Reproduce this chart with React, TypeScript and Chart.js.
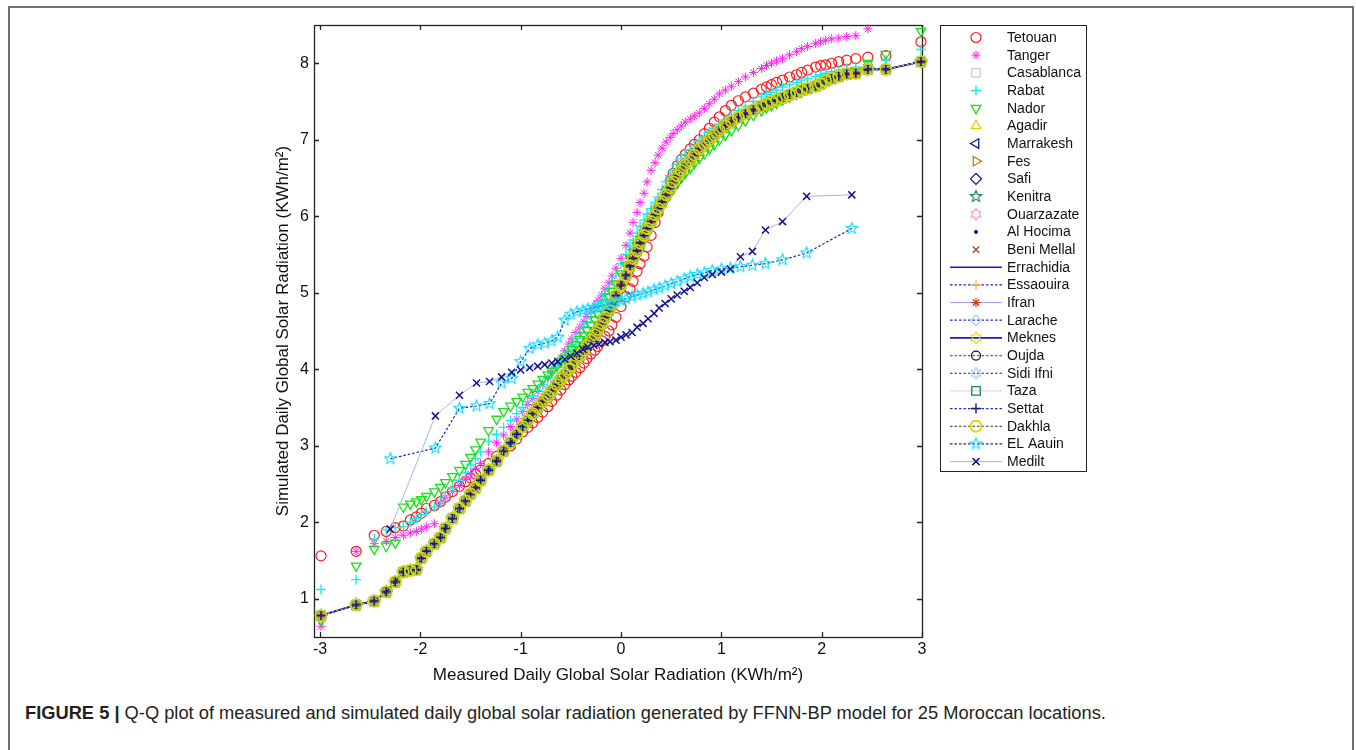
import React, { useEffect, useRef } from 'react';
import { Chart, registerables } from 'chart.js';
import { drawPoint } from 'chart.js/helpers';

Chart.register(...registerables);

// ---------- data ----------
const X_TICKS = [-3, -2, -1, 0, 1, 2, 3];
const Y_TICKS = [1, 2, 3, 4, 5, 6, 7, 8];

const X_TITLE = 'Measured Daily Global Solar Radiation (KWh/m²)';
const Y_TITLE = 'Simulated Daily Global Solar Radiation (KWh/m²)';

const STATIONS = [
  'Tetouan', 'Tanger', 'Casablanca', 'Rabat', 'Nador', 'Agadir', 'Marrakesh', 'Fes', 'Safi',
  'Kenitra', 'Ouarzazate', 'Al Hocima', 'Beni Mellal', 'Errachidia', 'Essaouira', 'Ifran',
  'Larache', 'Meknes', 'Oujda', 'Sidi Ifni', 'Taza', 'Settat', 'Dakhla', 'EL Aauin', 'Medilt',
];

// theoretical quantile positions (measured axis) of the long daily series
const QX = [
  -2.99, -2.64, -2.46, -2.34, -2.25, -2.17, -2.10, -2.04, -1.99, -1.94,
  -1.86, -1.80, -1.75, -1.68, -1.61, -1.55, -1.50, -1.45, -1.40, -1.32,
  -1.24, -1.17, -1.10, -1.04, -0.98, -0.93, -0.88, -0.83, -0.78, -0.73,
  -0.69, -0.64, -0.60, -0.56, -0.52, -0.49, -0.45, -0.41, -0.37, -0.34,
  -0.30, -0.26, -0.23, -0.19, -0.16, -0.12, -0.09, -0.05, 0.00, 0.05,
  0.09, 0.12, 0.16, 0.19, 0.23, 0.26, 0.30, 0.34, 0.37, 0.41,
  0.45, 0.49, 0.52, 0.56, 0.60, 0.64, 0.69, 0.73, 0.78, 0.83,
  0.88, 0.93, 0.98, 1.04, 1.10, 1.17, 1.24, 1.32, 1.40, 1.45,
  1.50, 1.55, 1.61, 1.68, 1.75, 1.80, 1.86, 1.94, 1.99, 2.04,
  2.10, 2.17, 2.25, 2.34, 2.46, 2.64, 2.99,
];

// lower band shared by the overlapping stations (black + / yellow circles)
const LOWER_Y = [
  0.78, 0.92, 0.97, 1.09, 1.22, 1.35, 1.37, 1.38, 1.53, 1.62,
  1.72, 1.80, 1.92, 2.05, 2.18, 2.28, 2.37, 2.45, 2.55, 2.68,
  2.80, 2.93, 3.04, 3.15, 3.25, 3.33, 3.42, 3.50, 3.58, 3.65,
  3.72, 3.80, 3.87, 3.93, 4.00, 4.05, 4.12, 4.18, 4.25, 4.31,
  4.38, 4.45, 4.52, 4.60, 4.68, 4.77, 4.85, 4.96, 5.10, 5.23,
  5.35, 5.45, 5.55, 5.65, 5.75, 5.84, 5.93, 6.02, 6.10, 6.19,
  6.28, 6.37, 6.45, 6.53, 6.60, 6.67, 6.73, 6.80, 6.88, 6.94,
  7.00, 7.06, 7.12, 7.18, 7.24, 7.29, 7.34, 7.39, 7.44, 7.47,
  7.50, 7.52, 7.55, 7.59, 7.62, 7.65, 7.67, 7.70, 7.73, 7.77,
  7.80, 7.83, 7.86, 7.87, 7.92, 7.92, 8.02,
];

const TETOUAN_Y = [
  1.56, 1.62, 1.83, 1.88, 1.93, 1.95, 2.03, 2.07, 2.12, 2.18,
  2.22, 2.27, 2.33, 2.40, 2.47, 2.53, 2.58, 2.63, 2.68, 2.77,
  2.86, 2.93, 3.00, 3.09, 3.18, 3.24, 3.30, 3.37, 3.44, 3.51,
  3.58, 3.66, 3.73, 3.80, 3.86, 3.91, 3.96, 4.02, 4.08, 4.14,
  4.20, 4.25, 4.30, 4.37, 4.43, 4.50, 4.58, 4.68, 4.82, 4.95,
  5.05, 5.15, 5.28, 5.38, 5.48, 5.60, 5.75, 5.92, 6.05, 6.20,
  6.33, 6.46, 6.56, 6.66, 6.74, 6.81, 6.88, 6.94, 7.00, 7.08,
  7.15, 7.23, 7.30, 7.38, 7.45, 7.51, 7.56, 7.61, 7.66, 7.69,
  7.72, 7.75, 7.78, 7.82, 7.85, 7.88, 7.91, 7.95, 7.97, 7.98,
  8.00, 8.02, 8.04, 8.06, 8.08, 8.10, 8.28,
];

const TANGER_Y = [
  0.64, 1.62, 1.72, 1.75, 1.80, 1.83, 1.86, 1.88, 1.91, 1.94,
  1.98, 2.25, 2.32, 2.40, 2.48, 2.56, 2.63, 2.70, 2.77, 2.92,
  3.04, 3.14, 3.25, 3.35, 3.45, 3.54, 3.62, 3.71, 3.80, 3.89,
  3.98, 4.07, 4.15, 4.24, 4.33, 4.40, 4.48, 4.55, 4.62, 4.69,
  4.76, 4.83, 4.90, 4.97, 5.05, 5.13, 5.22, 5.32, 5.45, 5.62,
  5.78, 5.92, 6.05, 6.18, 6.30, 6.45, 6.60, 6.70, 6.80, 6.89,
  6.97, 7.03, 7.08, 7.13, 7.18, 7.23, 7.27, 7.31, 7.35, 7.41,
  7.47, 7.53, 7.60, 7.65, 7.70, 7.76, 7.82, 7.88, 7.93, 7.97,
  8.00, 8.03, 8.06, 8.11, 8.15, 8.19, 8.22, 8.26, 8.28, 8.30,
  8.32, 8.33, 8.35, 8.36, 8.45, null, null,
];

const RABAT_Y = [
  1.12, 1.25, 1.78, 1.90, 1.93, 1.94, 2.00, 2.05, 2.10, 2.14,
  2.20, 2.27, 2.35, 2.45, 2.55, 2.65, 2.75, 2.83, 2.92, 3.06,
  3.15, 3.24, 3.33, 3.42, 3.50, 3.58, 3.65, 3.72, 3.80, 3.88,
  3.95, 4.03, 4.10, 4.18, 4.25, 4.32, 4.40, 4.47, 4.55, 4.61,
  4.68, 4.75, 4.82, 4.90, 4.98, 5.06, 5.15, 5.25, 5.38, 5.50,
  5.60, 5.69, 5.78, 5.87, 5.95, 6.03, 6.10, 6.18, 6.25, 6.35,
  6.45, 6.53, 6.60, 6.68, 6.75, 6.81, 6.87, 6.92, 6.98, 7.04,
  7.10, 7.15, 7.20, 7.26, 7.32, 7.38, 7.44, 7.50, 7.56, 7.59,
  7.62, 7.65, 7.69, 7.72, 7.75, 7.78, 7.80, 7.83, 7.85, 7.87,
  7.89, 7.91, 7.93, 7.95, 7.98, 8.04, 8.18,
];

const NADOR_Y = [
  0.72, 1.43, 1.65, 1.69, 1.73, 2.20, 2.24, 2.27, 2.30, 2.34,
  2.40, 2.46, 2.52, 2.60, 2.68, 2.76, 2.85, 2.95, 3.05, 3.20,
  3.35, 3.45, 3.52, 3.58, 3.64, 3.70, 3.75, 3.81, 3.87, 3.93,
  3.98, 4.04, 4.10, 4.15, 4.20, 4.26, 4.32, 4.39, 4.45, 4.51,
  4.58, 4.65, 4.72, 4.80, 4.87, 4.95, 5.02, 5.12, 5.25, 5.36,
  5.45, 5.53, 5.62, 5.70, 5.78, 5.86, 5.93, 6.00, 6.07, 6.15,
  6.22, 6.30, 6.36, 6.43, 6.50, 6.56, 6.63, 6.69, 6.76, 6.82,
  6.88, 6.94, 7.00, 7.06, 7.12, 7.19, 7.25, 7.32, 7.38, 7.42,
  7.45, 7.48, 7.52, 7.56, 7.60, 7.63, 7.66, 7.70, 7.74, 7.77,
  7.80, 7.83, 7.87, 7.90, 8.00, 8.12, 8.42,
];

// quantile positions of the two short series
const QX47 = [
  -2.30, -1.85, -1.61, -1.44, -1.31, -1.19, -1.09, -1.00, -0.91, -0.83,
  -0.76, -0.69, -0.63, -0.56, -0.50, -0.44, -0.38, -0.33, -0.27, -0.22,
  -0.16, -0.11, -0.05, 0.00, 0.05, 0.11, 0.16, 0.22, 0.27, 0.33,
  0.38, 0.44, 0.50, 0.56, 0.63, 0.69, 0.76, 0.83, 0.91, 1.00,
  1.09, 1.19, 1.31, 1.44, 1.61, 1.85, 2.30,
];

const EL_AAUIN_Y = [
  2.83, 2.97, 3.49, 3.52, 3.55, 3.82, 3.88, 4.10, 4.27, 4.32,
  4.34, 4.37, 4.42, 4.64, 4.72, 4.75, 4.77, 4.79, 4.81, 4.82,
  4.84, 4.86, 4.88, 4.90, 4.92, 4.95, 4.97, 4.99, 5.01, 5.04,
  5.06, 5.09, 5.12, 5.15, 5.18, 5.21, 5.24, 5.26, 5.29, 5.31,
  5.32, 5.34, 5.36, 5.38, 5.43, 5.52, 5.84,
];

const MEDILT_Y = [
  1.91, 3.39, 3.66, 3.82, 3.84, 3.90, 3.96, 3.99, 4.02, 4.04,
  4.06, 4.08, 4.10, 4.13, 4.17, 4.21, 4.26, 4.29, 4.31, 4.33,
  4.35, 4.36, 4.38, 4.42, 4.45, 4.48, 4.55, 4.60, 4.66, 4.73,
  4.80, 4.86, 4.92, 4.97, 5.02, 5.07, 5.13, 5.20, 5.24, 5.27,
  5.31, 5.47, 5.54, 5.82, 5.93, 6.26, 6.28,
];

const STATION_Y = [
  TETOUAN_Y, TANGER_Y, LOWER_Y, RABAT_Y, NADOR_Y, LOWER_Y, LOWER_Y, LOWER_Y, LOWER_Y,
  LOWER_Y, LOWER_Y, LOWER_Y, LOWER_Y, LOWER_Y, LOWER_Y, LOWER_Y,
  LOWER_Y, LOWER_Y, LOWER_Y, LOWER_Y, LOWER_Y, LOWER_Y, LOWER_Y, EL_AAUIN_Y, MEDILT_Y,
];
const STATION_X = STATION_Y.map((arr) => (arr.length === QX47.length ? QX47 : QX));

// ---------- styles ----------
type Style = {
  marker?: string; color?: string; size?: number; rot?: number; bw?: number; fill?: string;
  line?: { color: string; width: number; dash: number[] };
};
const DOT: number[] = [2.5, 2];
const STYLES: Style[] = [
  { marker: 'circle', color: '#ff1a1a', size: 5, bw: 1.2 },
  { marker: 'star', color: '#ff22ee', size: 4.5, bw: 1 },
  { marker: 'rect', color: '#bdbdbd', size: 6, bw: 1 },
  { marker: 'cross', color: '#1ee8f0', size: 5, bw: 1.4 },
  { marker: 'triangle', rot: 180, color: '#18e018', size: 5.5, bw: 1.3 },
  { marker: 'triangle', color: '#d8d800', size: 5.5, bw: 1.3 },
  { marker: 'triangle', rot: 270, color: '#14148a', size: 5.5, bw: 1.3 },
  { marker: 'triangle', rot: 90, color: '#c47a10', size: 5.5, bw: 1.3 },
  { marker: 'rectRot', color: '#14148a', size: 5.5, bw: 1.3 },
  { marker: 'penta', color: '#0a7a3a', size: 5 },
  { marker: 'hexa', color: '#ff8cc4', size: 5 },
  { marker: 'circle', color: '#14148a', size: 1.6, bw: 1, fill: '#14148a' },
  { marker: 'crossRot', color: '#a04414', size: 4.5, bw: 1.3 },
  { line: { color: '#1a1ac8', width: 1.6, dash: [] } },
  { marker: 'cross', color: '#ffaa60', size: 5, bw: 1.2, line: { color: '#2424d0', width: 1.2, dash: DOT } },
  { marker: 'star', color: '#d83818', size: 4.5, bw: 1.2, line: { color: '#9a9cf4', width: 1, dash: [] } },
  { marker: 'rectRot', color: '#a6d6ff', size: 5.5, bw: 1.2, line: { color: '#2424d0', width: 1.2, dash: DOT } },
  { marker: 'hexa', color: '#e0e000', size: 5, line: { color: '#1a1ac8', width: 1.6, dash: [] } },
  { marker: 'circle', color: '#111111', size: 4.5, bw: 1.2, line: { color: '#10a010', width: 1.2, dash: DOT } },
  { marker: 'hexa', color: '#a8c4ff', size: 5, line: { color: '#18189a', width: 1.2, dash: DOT } },
  { marker: 'rect', color: '#0a8a5a', size: 6, bw: 1.3, line: { color: '#ffc4d0', width: 1, dash: [] } },
  { marker: 'cross', color: '#141a70', size: 5, bw: 1.4, line: { color: '#2030c8', width: 1.2, dash: DOT } },
  { marker: 'circle', color: '#d6d600', size: 5.5, bw: 1.8, line: { color: '#303030', width: 1.2, dash: DOT } },
  { marker: 'penta', color: '#10dcff', size: 5, line: { color: '#1c1ca8', width: 1.2, dash: DOT } },
  { marker: 'crossRot', color: '#12128c', size: 5, bw: 1.5, line: { color: '#a8b4e0', width: 1, dash: [] } },
];

const FONT = '"Liberation Sans", Arial, Helvetica, sans-serif';
const CAPTION_BOLD = 'FIGURE 5 |';
const CAPTION_TEXT = ' Q-Q plot of measured and simulated daily global solar radiation generated by FFNN-BP model for 25 Moroccan locations.';

function starCanvas(points: number, color: string, outer: number, inner: number, lw: number): HTMLCanvasElement {
  const s = Math.ceil(outer * 2 + lw * 2 + 2);
  const c = document.createElement('canvas');
  c.width = s;
  c.height = s;
  const ctx = c.getContext('2d')!;
  ctx.strokeStyle = color;
  ctx.lineWidth = lw;
  ctx.beginPath();
  for (let k = 0; k < points * 2; k++) {
    const r = k % 2 === 0 ? outer : inner;
    const a = -Math.PI / 2 + (k * Math.PI) / points;
    const px = s / 2 + r * Math.cos(a);
    const py = s / 2 + r * Math.sin(a);
    if (k === 0) ctx.moveTo(px, py);
    else ctx.lineTo(px, py);
  }
  ctx.closePath();
  ctx.stroke();
  return c;
}

export default function App() {
  const ref = useRef<HTMLCanvasElement>(null);

  useEffect(() => {
    const canvas = ref.current;
    if (!canvas) return;

    const resolveMarker = (st: Style): any => {
      if (!st.marker) return false;
      if (st.marker === 'penta') return starCanvas(5, st.color!, 6, 2.6, 1.1);
      if (st.marker === 'hexa') return starCanvas(6, st.color!, 5.6, 3.3, 1.1);
      return st.marker;
    };

    const datasets = STATIONS.map((name, i) => {
      const st = STYLES[i];
      const xs = STATION_X[i];
      const ys = STATION_Y[i];
      return {
        label: name,
        data: xs.map((x, k) => ({ x, y: ys[k] })),
        order: STATIONS.length - i,
        showLine: !!st.line,
        borderColor: st.line ? st.line.color : 'rgba(0,0,0,0)',
        borderWidth: st.line ? st.line.width : 0,
        borderDash: st.line ? st.line.dash : [],
        tension: 0,
        fill: false,
        pointStyle: resolveMarker(st),
        pointRadius: st.marker ? st.size : 0,
        pointHoverRadius: st.marker ? st.size : 0,
        pointRotation: st.rot || 0,
        pointBorderColor: st.color || 'rgba(0,0,0,0)',
        pointBackgroundColor: st.fill || 'rgba(0,0,0,0)',
        pointBorderWidth: st.bw || 1.2,
        clip: 8,
      };
    });

    const framePlugin = {
      id: 'matlabFrame',
      beforeDatasetsDraw(chart: any) {
        const { ctx, chartArea: a, scales } = chart;
        ctx.save();
        ctx.strokeStyle = '#222';
        ctx.lineWidth = 1.3;
        ctx.strokeRect(a.left + 0.5, a.top + 0.5, a.right - a.left, a.bottom - a.top);
        ctx.beginPath();
        X_TICKS.forEach((v) => {
          const px = Math.round(scales.x.getPixelForValue(v)) + 0.5;
          ctx.moveTo(px, a.bottom);
          ctx.lineTo(px, a.bottom - 5);
          ctx.moveTo(px, a.top);
          ctx.lineTo(px, a.top + 5);
        });
        Y_TICKS.forEach((v) => {
          const py = Math.round(scales.y.getPixelForValue(v)) + 0.5;
          ctx.moveTo(a.left, py);
          ctx.lineTo(a.left + 5, py);
          ctx.moveTo(a.right, py);
          ctx.lineTo(a.right - 5, py);
        });
        ctx.stroke();
        ctx.restore();
      },
      afterDraw(chart: any) {
        const { ctx, chartArea: a } = chart;
        ctx.save();
        // axis titles
        ctx.fillStyle = '#111';
        ctx.font = `17px ${FONT}`;
        ctx.textAlign = 'center';
        ctx.textBaseline = 'middle';
        ctx.fillText(X_TITLE, (a.left + a.right) / 2, 675);
        ctx.save();
        ctx.translate(283, (a.top + a.bottom) / 2);
        ctx.rotate(-Math.PI / 2);
        ctx.fillText(Y_TITLE, 0, 0);
        ctx.restore();

        // legend
        const bx = 940.5, by = 25.5, bw = 146, bh = 446;
        ctx.fillStyle = '#ffffff';
        ctx.fillRect(bx, by, bw, bh);
        ctx.strokeStyle = '#222';
        ctx.lineWidth = 1;
        ctx.strokeRect(bx, by, bw, bh);
        chart.data.datasets.forEach((ds: any, i: number) => {
          const cy = 37.5 + i * 17.67;
          if (ds.showLine) {
            ctx.save();
            ctx.strokeStyle = ds.borderColor;
            ctx.lineWidth = ds.borderWidth;
            ctx.setLineDash(ds.borderDash || []);
            ctx.beginPath();
            ctx.moveTo(950, cy);
            ctx.lineTo(1002, cy);
            ctx.stroke();
            ctx.restore();
          }
          if (ds.pointStyle && ds.pointRadius > 0) {
            ctx.save();
            ctx.strokeStyle = ds.pointBorderColor;
            ctx.fillStyle = ds.pointBackgroundColor;
            ctx.lineWidth = ds.pointBorderWidth;
            drawPoint(ctx, {
              pointStyle: ds.pointStyle,
              rotation: ds.pointRotation,
              radius: ds.pointRadius,
              borderWidth: ds.pointBorderWidth,
            } as any, 976, cy);
            ctx.restore();
          }
          ctx.fillStyle = '#111';
          ctx.font = `14px ${FONT}`;
          ctx.textAlign = 'left';
          ctx.textBaseline = 'middle';
          ctx.fillText(ds.label, 1007, cy + 0.5);
        });
        ctx.restore();
      },
    };

    const chart = new Chart(canvas, {
      type: 'scatter',
      data: { datasets: datasets as any },
      options: {
        responsive: false,
        animation: false,
        devicePixelRatio: 1,
        events: [],
        layout: { padding: { left: 258, right: 434, top: 25, bottom: 23 } },
        plugins: {
          legend: { display: false },
          tooltip: { enabled: false },
          title: { display: false },
        },
        scales: {
          x: {
            type: 'linear',
            min: -3.06,
            max: 3,
            afterBuildTicks: (s: any) => { s.ticks = X_TICKS.map((v) => ({ value: v })); },
            afterFit: (s: any) => { s.height = 40; },
            grid: { display: false, drawTicks: false },
            border: { display: false },
            ticks: { padding: 3, color: '#111', font: { family: FONT, size: 16 } },
          },
          y: {
            type: 'linear',
            min: 0.5,
            max: 8.5,
            afterBuildTicks: (s: any) => { s.ticks = Y_TICKS.map((v) => ({ value: v })); },
            afterFit: (s: any) => { s.width = 56; },
            grid: { display: false, drawTicks: false },
            border: { display: false },
            ticks: { padding: 5, color: '#111', font: { family: FONT, size: 16 } },
          },
        },
      },
      plugins: [framePlugin],
    });

    return () => chart.destroy();
  }, []);

  return (
    <div style={{ position: 'absolute', left: 0, top: 0, width: 1356, height: 750, overflow: 'hidden', background: '#fff' }}>
      <div
        style={{
          position: 'absolute', left: 8, top: 6, width: 1346, height: 744, boxSizing: 'border-box',
          borderTop: '2px solid #707070', borderLeft: '2px solid #707070', borderRight: '2px solid #707070',
        }}
      />
      <canvas ref={ref} width={1356} height={700} style={{ position: 'absolute', left: 0, top: 0, width: 1356, height: 700 }} />
      <div
        style={{
          position: 'absolute', left: 25, top: 702, fontFamily: FONT, fontSize: 18.3, color: '#231f20',
          whiteSpace: 'nowrap', lineHeight: '22px',
        }}
      >
        <b>{CAPTION_BOLD}</b>
        {CAPTION_TEXT}
      </div>
    </div>
  );
}
